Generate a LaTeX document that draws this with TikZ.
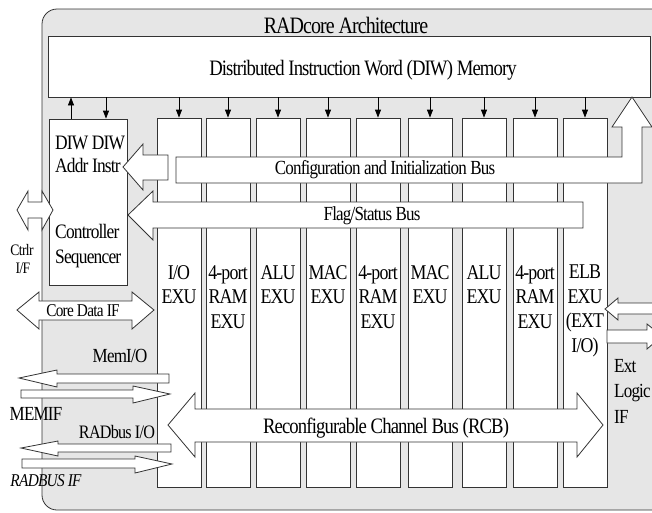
\documentclass[tikz,border=0pt]{standalone}
\usepackage{fontspec}
\setmainfont{Liberation Serif}[FakeStretch=0.85,LetterSpace=-4]
\usetikzlibrary{arrows.meta}
\definecolor{CoreGray}{HTML}{E6E6E6}
\definecolor{EdgeGray}{HTML}{333333}
\tikzset{
  unitbox/.style={draw=EdgeGray,fill=white,line width=0.8pt,inner sep=0pt},
  busarrow/.style={draw=EdgeGray,fill=white,line width=0.8pt,line join=miter},
  feed/.style={-{Triangle[length=8pt,width=6pt]},line width=0.8pt},
  coltext/.style={inner sep=0pt,align=center,font=\fontsize{21}{24.5}\selectfont},
  lbl/.style={inner sep=0pt,font=\fontsize{20}{22}\selectfont},
}

\begin{document}
\begin{tikzpicture}[x=1pt,y=-1pt]
\clip (0,0) rectangle (652,512);
\draw[EdgeGray,fill=CoreGray,line width=0.8pt,rounded corners=15pt] (42,9) rectangle (680,510);
\node[inner sep=0pt,font=\fontsize{23.5}{26}\selectfont] (title) at (346,25) {RADcore Architecture};
\node[unitbox,minimum width=602,minimum height=61] (diw) at (349,66.5) {};
\node[inner sep=0pt,font=\fontsize{22}{26}\selectfont] (diwtext) at (363,70) {Distributed Instruction Word (DIW) Memory};
\foreach \n/\x/\txt in {1/179/{I/O\\EXU},2/228/{4-port\\RAM\\EXU},3/278/{ALU\\EXU},
  4/328/{MAC\\EXU},5/378/{4-port\\RAM\\EXU},6/430/{MAC\\EXU},7/484/{ALU\\EXU},
  8/535/{4-port\\RAM\\EXU},9/585/{ELB\\EXU\\(EXT\\I/O)}} {
  \node[unitbox,minimum width=44,minimum height=369] (c\n) at (\x,302.5) {};
  \node[coltext,anchor=north] (t\n) at (\x,265) {\txt};
  \draw[feed] (diw.south -| c\n.north) -- (c\n.north);
}
\node[unitbox,minimum width=78,minimum height=166] (ctrl) at (88,202) {};
\node[coltext,font=\fontsize{20.5}{23}\selectfont,align=left,anchor=north west] (ctrltop) at (55,136) {DIW DIW\\Addr Instr};
\node[coltext,font=\fontsize{20.5}{25}\selectfont,align=left,anchor=north west] (ctrlbot) at (55,224) {Controller\\Sequencer};
\draw[feed] ([xshift=-17pt]ctrl.north) -- ([xshift=-17pt]ctrl.north |- diw.south);
\draw[feed] ([xshift=18pt]ctrl.north |- diw.south) -- ([xshift=18pt]ctrl.north);
\draw[busarrow] (176,157) -- (622,157) -- (622,127) -- (612,127) -- (632,97) -- (652,127)
  -- (642,127) -- (642,183) -- (176,183) -- cycle;
\draw[busarrow] (123,167) -- (143,144) -- (143,155) -- (168,155) -- (168,180) -- (143,180)
  -- (143,190) -- cycle;
\node[lbl] (cfg) at (385,170) {Configuration and Initialization Bus};
\draw[busarrow] (128,215) -- (153,191) -- (153,202) -- (583,202) -- (583,228) -- (153,228)
  -- (153,240) -- cycle;
\node[lbl] (flag) at (372,216) {Flag/Status Bus};
\draw[busarrow] (168,425) -- (195,393) -- (195,409) -- (577,409) -- (577,393) -- (603,425)
  -- (577,457) -- (577,442) -- (195,442) -- (195,457) -- cycle;
\node[lbl,font=\fontsize{22}{24}\selectfont] (rcb) at (386,428) {Reconfigurable Channel Bus (RCB)};
\draw[busarrow] (17,210) -- (28,191) -- (28,202) -- (42,202) -- (42,191) -- (53,210)
  -- (42,230) -- (42,218) -- (28,218) -- (28,230) -- cycle;
\node[lbl,font=\fontsize{16}{18}\selectfont] (ctrlr) at (22,250) {Ctrlr};
\node[lbl,font=\fontsize{16}{18}\selectfont] (ctrlrif) at (23,268) {I/F};
\draw[busarrow] (17,310) -- (39,292) -- (39,301) -- (132,301) -- (132,292) -- (154,310)
  -- (132,329) -- (132,320) -- (39,320) -- (39,329) -- cycle;
\node[lbl,font=\fontsize{18}{20}\selectfont] (coredata) at (83,311) {Core Data IF};
\node[lbl] (memio) at (120,356) {MemI/O};
\draw[busarrow] (19,378) -- (57,370) -- (57,374) -- (169,374) -- (169,383) -- (57,383)
  -- (57,387) -- cycle;
\draw[busarrow] (21,390) -- (133,390) -- (133,386) -- (170,394) -- (133,403) -- (133,398)
  -- (21,398) -- cycle;
\node[lbl] (memif) at (36,414) {MEMIF};
\node[lbl,font=\fontsize{19}{22}\selectfont] (radio) at (117,432) {RADbus I/O};
\draw[busarrow] (21,448) -- (58,441) -- (58,444) -- (171,444) -- (171,452) -- (58,452)
  -- (58,456) -- cycle;
\draw[busarrow] (22,459) -- (135,459) -- (135,456) -- (172,464) -- (135,473) -- (135,468)
  -- (22,468) -- cycle;
\node[lbl,font=\fontsize{18}{20}\itshape] (radif) at (46,481) {RADBUS IF};
\draw[busarrow] (605,309) -- (618,298) -- (618,303) -- (660,303) -- (660,314) -- (618,314)
  -- (618,320) -- cycle;
\draw[busarrow] (607,330) -- (647,330) -- (647,324) -- (662,336) -- (647,349) -- (647,343)
  -- (607,343) -- cycle;
\node[coltext,font=\fontsize{20}{25.5}\selectfont,align=left,anchor=north west] (extif) at (614,359) {Ext\\Logic\\IF};
\end{tikzpicture}
\end{document}
